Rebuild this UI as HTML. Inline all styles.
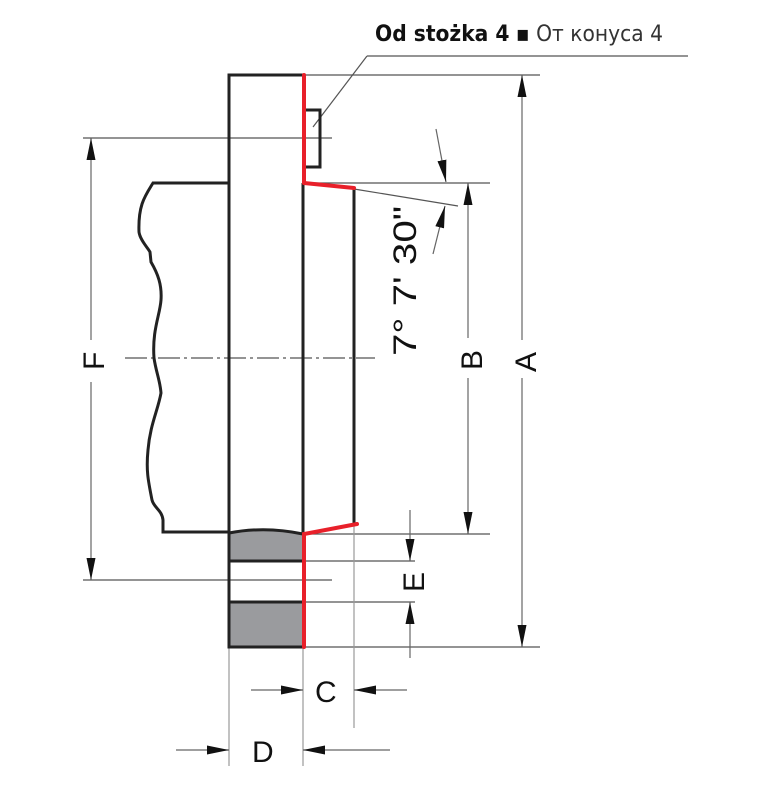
<!DOCTYPE html>
<html><head><meta charset="utf-8"><style>
html,body{margin:0;padding:0;background:#fff;}
svg{display:block;}
text{font-family:"Liberation Sans",sans-serif;fill:#111;}
</style></head><body>
<svg width="763" height="795" viewBox="0 0 763 795" xmlns="http://www.w3.org/2000/svg">
<defs>
<marker id="ar" viewBox="0 0 10 10" refX="10" refY="5" markerWidth="22" markerHeight="9" markerUnits="userSpaceOnUse" orient="auto" preserveAspectRatio="none"><path d="M0,0 L10,5 L0,10 z" fill="#111"/></marker>
</defs>
<g stroke="#555" stroke-width="1.2" fill="none">
<line x1="367" y1="56" x2="688" y2="56"/>
<line x1="367" y1="56" x2="313" y2="127"/>
<line x1="303" y1="75" x2="540" y2="75"/>
<line x1="303" y1="183" x2="490" y2="183"/>
<line x1="303" y1="534" x2="490" y2="534"/>
<line x1="303" y1="647" x2="540" y2="647"/>
<line x1="303" y1="561" x2="415" y2="561"/>
<line x1="303" y1="602" x2="415" y2="602"/>
<line x1="83" y1="138" x2="332" y2="138"/>
<line x1="83" y1="580" x2="332" y2="580"/>
<line x1="354" y1="189" x2="458" y2="206"/>
<line x1="229" y1="647" x2="229" y2="766" stroke="#999"/>
<line x1="303" y1="647" x2="303" y2="766" stroke="#999"/>
<line x1="354" y1="524" x2="354" y2="728" stroke="#999"/>
<line x1="125" y1="358" x2="375" y2="358" stroke-dasharray="22,4,3,4"/>
</g>
<g stroke="#666" stroke-width="1.2" fill="none">
<line x1="522" y1="340" x2="522" y2="75" marker-end="url(#ar)"/>
<line x1="522" y1="378" x2="522" y2="647" marker-end="url(#ar)"/>
<line x1="468" y1="338" x2="468" y2="183" marker-end="url(#ar)"/>
<line x1="468" y1="378" x2="468" y2="534" marker-end="url(#ar)"/>
<line x1="91" y1="340" x2="91" y2="138" marker-end="url(#ar)"/>
<line x1="91" y1="382" x2="91" y2="580" marker-end="url(#ar)"/>
<line x1="410" y1="510" x2="410" y2="561" marker-end="url(#ar)"/>
<line x1="410" y1="658" x2="410" y2="602" marker-end="url(#ar)"/>
<line x1="436" y1="129" x2="446" y2="182" marker-end="url(#ar)"/>
<line x1="433" y1="254" x2="445" y2="206" marker-end="url(#ar)"/>
<line x1="251" y1="690" x2="303" y2="690" marker-end="url(#ar)"/>
<line x1="407" y1="690" x2="354" y2="690" marker-end="url(#ar)"/>
<line x1="176" y1="750" x2="229" y2="750" marker-end="url(#ar)"/>
<line x1="390" y1="750" x2="303" y2="750" marker-end="url(#ar)"/>
</g>
<path d="M229,533 Q265,526 303,534 L303,561 L229,561 z" fill="#9a9b9e"/>
<rect x="229" y="602" width="74" height="45" fill="#9a9b9e"/>
<g stroke="#222" stroke-width="3" fill="none">
<path d="M303,75 L229,75 L229,647 L303,647"/>
<line x1="303" y1="183" x2="303" y2="534"/>
<line x1="354" y1="189" x2="354" y2="524"/>
<path d="M303,110 L320,110 L320,167 L303,167"/>
<line x1="229" y1="561" x2="303" y2="561"/>
<line x1="229" y1="602" x2="303" y2="602"/>
<path d="M229,183 L153,183 C145,196 138,205 139,232 C140,240 148,248 150,252 L151,262 C158,274 162,285 161,300 C160,315 152,330 154,358 C156,372 160,380 161,393 C158,410 150,425 148,450 C146,470 148,480 152,500 C154,508 162,510 163,520 L163,532 L229,532"/>
<path d="M229,533 Q265,526 303,534"/>
</g>
<g stroke="#e8202a" stroke-width="4" fill="none" stroke-linecap="round">
<line x1="304" y1="75" x2="304" y2="183"/>
<path d="M304,183 L354,188"/>
<path d="M357,524 L304,534 L304,647"/>
</g>
<text x="375" y="41" font-size="22" style="font-family:'DejaVu Sans','Liberation Sans',sans-serif" textLength="288" lengthAdjust="spacingAndGlyphs"><tspan font-weight="bold">Od stożka 4</tspan><tspan> ▪ </tspan><tspan fill="#333">От конуса 4</tspan></text>
<text transform="translate(416,356) rotate(-90)" font-size="32" textLength="150" lengthAdjust="spacingAndGlyphs">7°  7'  30"</text>
<text transform="translate(482,370) rotate(-90)" font-size="30">B</text>
<text transform="translate(536,372) rotate(-90)" font-size="30">A</text>
<text transform="translate(104,370) rotate(-90)" font-size="30">F</text>
<text transform="translate(424,592) rotate(-90)" font-size="30">E</text>
<text x="315" y="702" font-size="30">C</text>
<text x="252" y="762" font-size="30">D</text>
</svg>
</body></html>
